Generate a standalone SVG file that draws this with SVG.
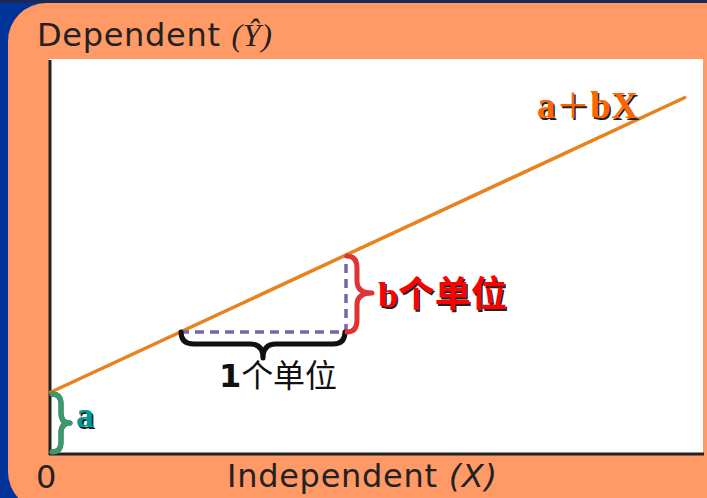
<svg xmlns="http://www.w3.org/2000/svg" width="707" height="498" viewBox="0 0 707 498">
<style>
.axl{font-family:"DejaVu Sans",Verdana,sans-serif;font-size:32px;fill:#222}
.ser{font-family:"Liberation Serif","Times New Roman",serif;font-weight:bold}
.cjk{font-family:"Noto Sans CJK SC",sans-serif}
.sh{fill:#222}
.brace{fill:none;stroke-width:5;stroke-linecap:round;stroke-linejoin:round}
</style>
<rect x="0" y="0" width="707" height="498" fill="#003399"/>
<rect x="0" y="0" width="707" height="3" fill="#1a2a55"/>
<rect x="8" y="3" width="760" height="507" rx="38" fill="#FF9966"/>
<rect x="49" y="59" width="654" height="394" fill="#ffffff"/>
<g id="axes">
<line x1="50" y1="60" x2="50" y2="455" stroke="#222" stroke-width="3"/>
<line x1="49" y1="454" x2="704" y2="454" stroke="#222" stroke-width="3"/>
<text class="axl" x="37" y="46" textLength="235" lengthAdjust="spacing">Dependent <tspan font-family="Liberation Serif,serif" font-style="italic">(Ŷ)</tspan></text>
<text class="axl" x="227" y="487" textLength="270" lengthAdjust="spacing">Independent <tspan font-style="italic">(X)</tspan></text>
<text class="axl" x="36" y="488" font-size="33">0</text>
</g>
<g id="connectors">
<line x1="49" y1="393" x2="686" y2="97" stroke="#E8821E" stroke-width="3.5"/>
<path d="M180,332 H346 V256" fill="none" stroke="#7766AA" stroke-width="3.5" stroke-dasharray="9,6"/>
</g>
<g id="brace-1">
<path class="brace" stroke="#111" d="M181,332 Q181,344 194,344 L250,344 Q263,344 263,358 Q263,344 276,344 L333,344 Q345,344 345,332"/>
<text x="219" y="387" font-size="32" fill="#111" textLength="118" lengthAdjust="spacing"><tspan font-family="DejaVu Sans,sans-serif" font-weight="bold">1</tspan><tspan class="cjk">个单位</tspan></text>
</g>
<g id="brace-b">
<path class="brace" stroke="#E03333" d="M347,256 Q357,256 357,268 L357,281 Q357,293 372,293 Q357,293 357,305 L357,320 Q357,332 347,332"/>
<text x="379.5" y="308.5" font-size="36" class="sh" textLength="129" lengthAdjust="spacing"><tspan class="ser">b</tspan><tspan class="cjk" font-weight="bold">个单位</tspan></text>
<text x="378" y="307" font-size="36" fill="#FF0000" textLength="129" lengthAdjust="spacing"><tspan class="ser">b</tspan><tspan class="cjk" font-weight="bold">个单位</tspan></text>
</g>
<g id="brace-a">
<path class="brace" stroke="#334466" stroke-width="5" d="M52,394 Q61,394 61,404 L61,413 Q61,423 70,423 Q61,423 61,433 L61,442 Q61,452 52,452"/>
<path class="brace" stroke="#3A9A6A" stroke-width="3" d="M52,394 Q61,394 61,404 L61,413 Q61,423 70,423 Q61,423 61,433 L61,442 Q61,452 52,452"/>
<text class="ser sh" x="77.5" y="428.5" font-size="36">a</text>
<text class="ser" x="76" y="427" font-size="36" fill="#009999">a</text>
</g>
<g id="equation">
<text x="538.5" y="119.5" font-size="37" class="sh" textLength="101" lengthAdjust="spacing"><tspan class="ser">a</tspan><tspan class="cjk" font-size="34">＋</tspan><tspan class="ser">bX</tspan></text>
<text x="537" y="118" font-size="37" fill="#FF6600" textLength="101" lengthAdjust="spacing"><tspan class="ser">a</tspan><tspan class="cjk" font-size="34">＋</tspan><tspan class="ser">bX</tspan></text>
</g>
</svg>
